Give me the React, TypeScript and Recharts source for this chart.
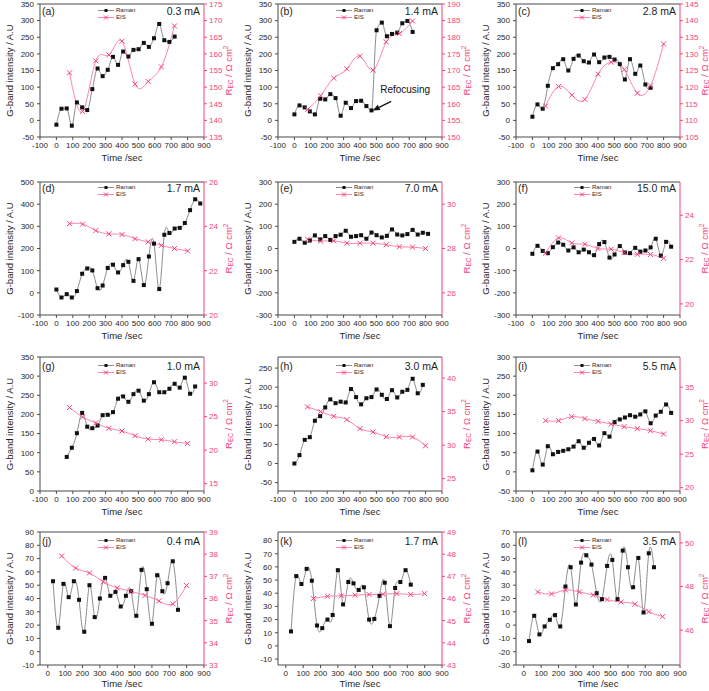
import React from 'react';
import { ComposedChart, Line, XAxis, YAxis, ReferenceLine } from 'recharts';

const FONT = '"Liberation Sans", Arial, Helvetica, sans-serif';
const INK = '#1e1e1e';
const FRAME = '#4a4a4a';
const GREY = '#8c8c8c';
const PINK = '#f4447a';
const PINK_LINE = '#ff85a5';

// sampling times (s)
const T_RAMAN = [0, 31, 63, 94, 125, 157, 188, 219, 251, 282, 313, 345, 376, 407, 439, 470, 501, 533, 564, 595, 627, 658, 689, 721, 752, 783, 815, 846, 877];
const T_RAMAN_LOW = [30, 60, 90, 120, 150, 180, 210, 240, 270, 300, 330, 360, 390, 420, 450, 480, 510, 540, 570, 600, 630, 660, 690, 720, 750];
const T_EIS = [80, 160, 240, 320, 400, 480, 560, 640, 720, 800];

const X_TICKS = [-100, 0, 100, 200, 300, 400, 500, 600, 700, 800, 900];
const X_TICKS_LOW = [0, 100, 200, 300, 400, 500, 600, 700, 800, 900];

// G-band intensity (A.U)
const A_RAMAN = [-13, 35, 36, -16, 54, 39, 31, 94, 156, 133, 152, 191, 167, 207, 192, 212, 214, 233, 221, 247, 290, 241, 236, 252];
const B_RAMAN = [18, 45, 39, 27, 18, 65, 63, 79, 67, 14, 53, 37, 58, 59, 43, 30, 271, 294, 253, 260, 264, 292, 299, 266];
const C_RAMAN = [11, 48, 35, 104, 157, 169, 184, 150, 185, 195, 178, 174, 198, 175, 189, 191, 183, 169, 123, 184, 140, 165, 108, 98];
const D_RAMAN = [15, -21, -6, -21, 8, 86, 110, 101, 21, 33, 112, 127, 92, 125, 140, 54, 152, 35, 164, 222, 17, 262, 270, 290, 293, 315, 373, 422, 403];
const E_RAMAN = [30, 44, 26, 36, 59, 41, 56, 39, 56, 62, 80, 53, 56, 60, 44, 72, 60, 50, 57, 86, 63, 59, 65, 84, 63, 71, 66];
const F_RAMAN = [-24, 12, -11, -21, 6, 27, 17, -9, 5, -17, -5, -17, -30, 20, 29, -41, -27, 11, -18, -21, 3, -14, -9, 5, 44, -32, 30, 8];
const G_RAMAN = [89, 113, 151, 204, 168, 164, 171, 198, 199, 206, 241, 247, 233, 253, 262, 236, 253, 284, 258, 258, 267, 280, 270, 296, 254, 273];
const H_RAMAN = [0, 22, 62, 69, 112, 124, 147, 168, 158, 162, 160, 195, 174, 155, 171, 174, 194, 180, 169, 192, 173, 188, 193, 222, 184, 206];
const I_RAMAN = [4, 53, 19, 67, 46, 52, 55, 59, 66, 80, 63, 76, 86, 69, 101, 92, 130, 137, 142, 148, 144, 150, 158, 127, 147, 157, 176, 154];
const J_RAMAN = [53, 18, 51, 41, 53, 39, 15, 50, 26, 40, 55.5, 42, 45, 34, 42, 45.5, 27, 61.5, 47, 21, 57.5, 45.5, 51.5, 68, 31.5];
const K_RAMAN = [11, 53, 47, 58.5, 49.5, 15.5, 13.5, 20, 23.5, 57.5, 31.5, 48.5, 47.5, 42.5, 44.5, 20, 20.5, 38, 48, 15, 44, 48.5, 57.5, 46.5];
const L_RAMAN = [-12, 7, -7, -1, 4, 7.5, -1, 29, 43.5, 15.5, 47, 52.5, 45.5, 24, 19.5, 44.5, 49, 19.5, 56, 43.5, 28.5, 50.5, 9.5, 54, 43.5];

// R_EC (Ohm cm2)
const A_EIS = [154.3, 142.7, 157.9, 159.7, 163.8, 150.9, 151.7, 156.1, 168.4];
const B_EIS = [158.3, 162.4, 167.7, 170.5, 174.3, 170.1, 178.6, 181.1, 184.9];
const C_EIS = [114.3, 120.2, 117.6, 116.3, 123.9, 127.5, 125.3, 118.2, 120.4, 133.0];
const D_EIS = [24.12, 24.1, 23.81, 23.66, 23.63, 23.44, 23.3, 23.14, 23.0, 22.89];
const E_EIS = [28.42, 28.33, 28.35, 28.24, 28.24, 28.24, 28.17, 28.08, 28.06, 28.0];
const F_EIS = [22.29, 22.98, 22.75, 22.69, 22.5, 22.47, 22.32, 22.24, 22.23, 22.06];
const G_EIS = [26.35, 24.95, 24.05, 23.25, 22.85, 22.15, 21.65, 21.55, 21.25, 21.0];
const H_EIS = [35.7, 35.0, 34.3, 33.8, 32.45, 31.95, 31.25, 31.2, 31.2, 29.9];
const I_EIS = [30.0, 30.0, 30.6, 30.3, 29.9, 29.5, 29.1, 28.8, 28.5, 28.0];
const J_EIS = [37.92, 37.37, 37.15, 36.75, 36.48, 36.32, 36.14, 35.89, 35.76, 36.59];
const K_EIS = [46.0, 46.1, 46.12, 46.15, 46.18, 46.19, 46.22, 46.18, 46.22];
const L_EIS = [47.75, 47.66, 47.84, 47.75, 47.61, 47.4, 47.29, 47.19, 46.85, 46.62];

const CURRENTS = ['0.3 mA', '1.4 mA', '2.8 mA', '1.7 mA', '7.0 mA', '15.0 mA', '1.0 mA', '3.0 mA', '5.5 mA', '0.4 mA', '1.7 mA', '3.5 mA'];
const LETTERS = ['a', 'b', 'c', 'd', 'e', 'f', 'g', 'h', 'i', 'j', 'k', 'l'];

const COL_X = [1, 239, 477];
const ROW_Y = [0, 178, 353, 528];
const PLOT_H = [133, 133, 134, 133];
const LEGEND_Y = [11, 10, 13, 13];
const TITLE_DY = [24, 24, 23.5, 22];
const W = 236;

const range = (a: number, b: number, s: number) => {
  const out: number[] = [];
  for (let v = a; v <= b + 1e-9; v += s) out.push(Math.round(v * 100) / 100);
  return out;
};

const panels = [
  { raman: [T_RAMAN.slice(0, 24), A_RAMAN], eis: [T_EIS.slice(0, 9), A_EIS], left: [-50, 350], lt: range(-50, 350, 50), right: [135, 175], rt: range(135, 175, 5), rc: 'monotone' },
  { raman: [T_RAMAN.slice(0, 24), B_RAMAN], eis: [T_EIS.slice(0, 9), B_EIS], left: [-50, 350], lt: range(-50, 350, 50), right: [150, 190], rt: range(150, 190, 5), rc: 'monotone', arrow: true },
  { raman: [T_RAMAN.slice(0, 24), C_RAMAN], eis: [T_EIS, C_EIS], left: [-50, 350], lt: range(-50, 350, 50), right: [105, 145], rt: range(105, 145, 5), rc: 'natural' },
  { raman: [T_RAMAN.slice(0, 29), D_RAMAN], eis: [T_EIS, D_EIS], left: [-100, 500], lt: range(-100, 500, 100), right: [20, 26], rt: [20, 22, 24, 26], rc: 'natural' },
  { raman: [T_RAMAN.slice(0, 27), E_RAMAN], eis: [T_EIS, E_EIS], left: [-300, 300], lt: range(-300, 300, 100), right: [25, 31], rt: [26, 28, 30], rc: 'natural' },
  { raman: [T_RAMAN.slice(0, 28), F_RAMAN], eis: [T_EIS, F_EIS], left: [-300, 300], lt: range(-300, 300, 100), right: [19.5, 25.5], rt: [20, 22, 24], rc: 'natural' },
  { raman: [T_RAMAN.slice(2, 28), G_RAMAN], eis: [T_EIS, G_EIS], left: [0, 350], lt: range(0, 350, 50), right: [13.9, 33.9], rt: [15, 20, 25, 30], rc: 'natural' },
  { raman: [T_RAMAN.slice(0, 26), H_RAMAN], eis: [T_EIS, H_EIS], left: [-72, 279], lt: range(-50, 250, 50), right: [23.15, 43.15], rt: [25, 30, 35, 40], rc: 'natural' },
  { raman: [T_RAMAN.slice(0, 28), I_RAMAN], eis: [T_EIS, I_EIS], left: [-50, 300], lt: range(-50, 300, 50), right: [19.5, 39.5], rt: [20, 25, 30, 35], rc: 'natural' },
  { raman: [T_RAMAN_LOW, J_RAMAN], eis: [T_EIS, J_EIS], left: [-10, 90], lt: range(-10, 90, 10), right: [33, 39], rt: range(33, 39, 1), rc: 'natural' },
  { raman: [T_RAMAN_LOW.slice(0, 24), K_RAMAN], eis: [T_EIS.slice(1), K_EIS], left: [-14.5, 86.5], lt: range(-10, 80, 10), right: [43, 49], rt: range(43, 49, 1), rc: 'natural' },
  { raman: [T_RAMAN_LOW, L_RAMAN], eis: [T_EIS, L_EIS], left: [-30, 70], lt: range(-30, 70, 10), right: [44.4, 50.5], rt: [46, 48, 50], rc: 'natural' },
];

const square = (p: any) => (
  <rect key={`s${p.index}`} x={p.cx - 2} y={p.cy - 2} width={4} height={4} fill="#111" />
);

const cross = (p: any) => (
  <path
    key={`x${p.index}`}
    d={`M${p.cx - 2.5},${p.cy - 2.5}L${p.cx + 2.5},${p.cy + 2.5}M${p.cx - 2.5},${p.cy + 2.5}L${p.cx + 2.5},${p.cy - 2.5}`}
    stroke={PINK}
    strokeWidth={1}
    fill="none"
  />
);

const XTitle = (props: any) => {
  const vb = props.viewBox || {};
  return (
    <text x={vb.x + vb.width / 2} y={vb.y + (props.dy ?? 24)} textAnchor="middle" fontSize={9.5} fill={INK}>
      Time /sec
    </text>
  );
};

const LeftTitle = (props: any) => {
  const vb = props.viewBox || {};
  const cx = vb.x + 8;
  const cy = vb.y + vb.height / 2;
  return (
    <text x={cx} y={cy} transform={`rotate(-90 ${cx} ${cy})`} textAnchor="middle" dominantBaseline="central" fontSize={9.5} fill={INK}>
      G-band intensity / A.U
    </text>
  );
};

const RightTitle = (props: any) => {
  const vb = props.viewBox || {};
  const cx = vb.x + 24;
  const cy = vb.y + vb.height / 2;
  return (
    <text x={cx} y={cy} transform={`rotate(-90 ${cx} ${cy})`} textAnchor="middle" dominantBaseline="central" fontSize={9.5} fill={PINK}>
      R<tspan fontSize={6.5} dy={2}>EC</tspan>
      <tspan dy={-2}> / Ω cm</tspan>
      <tspan fontSize={6.5} dy={-3.5}>2</tspan>
    </text>
  );
};

const arrowShape = (p: any) => {
  const { x1, y1, x2, y2 } = p;
  const a = Math.atan2(y2 - y1, x2 - x1);
  const L = 7;
  const hw = 3;
  const bx = x2 - L * Math.cos(a);
  const by = y2 - L * Math.sin(a);
  const px = -Math.sin(a) * hw;
  const py = Math.cos(a) * hw;
  return (
    <g>
      <line x1={x1} y1={y1} x2={bx} y2={by} stroke="#111" strokeWidth={1.3} />
      <polygon points={`${x2},${y2} ${bx + px},${by + py} ${bx - px},${by - py}`} fill="#111" />
      <text x={x1 - 11} y={y1 - 8} fontSize={10} fill="#111">Refocusing</text>
    </g>
  );
};

const LegendRow = ({ label, kind }: { label: string; kind: 'raman' | 'eis' }) => (
  <div style={{ display: 'flex', alignItems: 'center', height: 7 }}>
    <svg width={16} height={7}>
      <line x1={0} y1={3.5} x2={16} y2={3.5} stroke={kind === 'raman' ? GREY : PINK_LINE} strokeWidth={1} />
      {kind === 'raman' ? (
        <rect x={6.5} y={2} width={3} height={3} fill="#111" />
      ) : (
        <path d="M6,1.5L10,5.5M6,5.5L10,1.5" stroke={PINK} strokeWidth={1} />
      )}
    </svg>
    <span style={{ marginLeft: 2, fontSize: 6, lineHeight: '7px', color: INK }}>{label}</span>
  </div>
);

const Panel = ({ p, idx }: { p: any; idx: number }) => {
  const row = Math.floor(idx / 3);
  const col = idx % 3;
  const plotH = PLOT_H[row];
  const h = 4 + plotH + 35;
  const lowRow = row === 3;
  const ramanData = p.raman[0].map((t: number, i: number) => ({ t, v: p.raman[1][i] }));
  const eisData = p.eis[0].map((t: number, i: number) => ({ t, v: p.eis[1][i] }));
  const legTop = LEGEND_Y[row];

  return (
    <div style={{ position: 'absolute', left: COL_X[col], top: ROW_Y[row], width: W, height: h }}>
      <ComposedChart width={W} height={h} margin={{ top: 4, right: 0, bottom: 0, left: 0 }}>
        <XAxis
          type="number"
          dataKey="t"
          domain={lowRow ? [-45, 900] : [-100, 900]}
          ticks={lowRow ? X_TICKS_LOW : X_TICKS}
          interval={0}
          allowDataOverflow
          height={35}
          stroke={FRAME}
          tickSize={3}
          tickMargin={2}
          tick={{ fontSize: 8, fill: INK }}
          label={<XTitle dy={TITLE_DY[row]} />}
        />
        <YAxis
          yAxisId="l"
          type="number"
          domain={p.left}
          ticks={p.lt}
          interval={0}
          allowDataOverflow
          width={39}
          stroke={FRAME}
          tickSize={3}
          tickMargin={3}
          tick={{ fontSize: 8, fill: INK }}
          label={<LeftTitle />}
        />
        <YAxis
          yAxisId="r"
          orientation="right"
          type="number"
          domain={p.right}
          ticks={p.rt}
          interval={0}
          allowDataOverflow
          width={W - 39 - 164}
          stroke={PINK}
          tickSize={3}
          tickMargin={2}
          tick={{ fontSize: 8, fill: PINK }}
          label={<RightTitle />}
        />
        <ReferenceLine yAxisId="l" y={p.left[1]} stroke={FRAME} strokeWidth={1} />
        <Line
          yAxisId="l"
          data={ramanData}
          dataKey="v"
          type={p.rc}
          stroke={GREY}
          strokeWidth={1}
          dot={square}
          activeDot={false}
          isAnimationActive={false}
        />
        <Line
          yAxisId="r"
          data={eisData}
          dataKey="v"
          type="natural"
          stroke={PINK_LINE}
          strokeWidth={1}
          dot={cross}
          activeDot={false}
          isAnimationActive={false}
        />
        {p.arrow && (
          <ReferenceLine
            yAxisId="l"
            segment={[{ x: 590, y: 57 }, { x: 478, y: 30 }]}
            shape={arrowShape}
          />
        )}
      </ComposedChart>
      <div style={{ position: 'absolute', left: 41, top: legTop - 6, fontSize: 10.5, lineHeight: '12px', color: INK }}>
        ({LETTERS[idx]})
      </div>
      <div style={{ position: 'absolute', right: W - 199, top: legTop - 6, fontSize: 10.5, lineHeight: '12px', color: INK, whiteSpace: 'nowrap' }}>
        {CURRENTS[idx]}
      </div>
      <div style={{ position: 'absolute', left: 97, top: legTop - 4 }}>
        <LegendRow label="Raman" kind="raman" />
        <LegendRow label="EIS" kind="eis" />
      </div>
    </div>
  );
};

export default function App() {
  return (
    <div
      style={{
        position: 'absolute',
        left: 0,
        top: 0,
        width: 709,
        height: 691,
        overflow: 'hidden',
        background: '#fff',
        fontFamily: FONT,
      }}
    >
      {panels.map((p, i) => (
        <Panel key={i} p={p} idx={i} />
      ))}
    </div>
  );
}
